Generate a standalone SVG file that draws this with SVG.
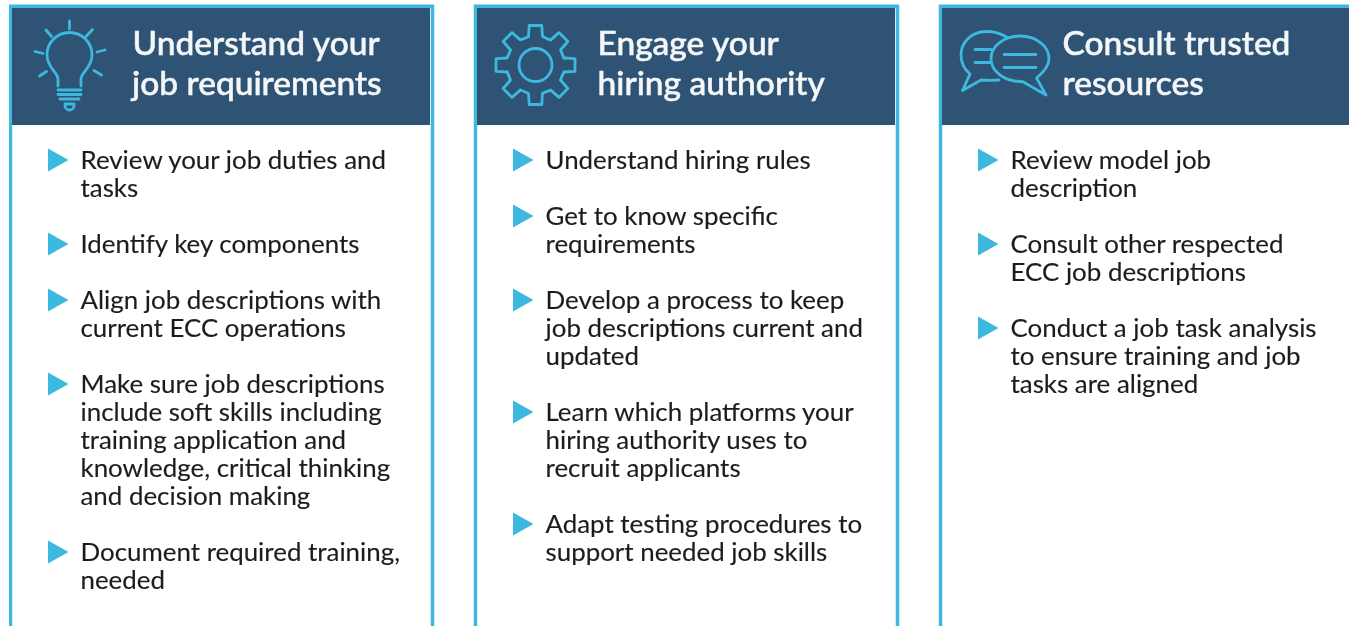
<svg xmlns="http://www.w3.org/2000/svg" width="1349" height="626" viewBox="0 0 1349 626">
<style>
.frame{fill:#fff;stroke:#3cb9df;stroke-width:3.5}
.head{fill:#2e5374}
.title{font:500 33.500px Lato,"Open Sans",sans-serif;fill:#f4f6f8;stroke:#f4f6f8;stroke-width:.55}
.body{font:400 25.900px Lato,"Open Sans",sans-serif;fill:#1c1c1c;stroke:#1c1c1c;stroke-width:.15}
.ico{fill:none;stroke:#3cb9df;stroke-width:2.800;stroke-linecap:round;stroke-linejoin:round}
.bul{fill:#3cb9df}
</style>
<defs>
<filter id="soft" x="0" y="0" width="1" height="1"><feGaussianBlur stdDeviation="0.6"/></filter>
<path id="tri" class="bul" d="M0 0L20.500 11.500L0 23Z"/>
<path id="tooth" d="M-7-28.500L-6.300-39.500H6.300L7-28.500Q11-26.500 15-25"/>
</defs>
<rect width="1349" height="626" fill="#fff"/>
<g filter="url(#soft)">
<g id="connectors"></g>
<g id="panel-1">
<rect x="9" y="4" width="425" height="640" fill="#d5dde2"/>
<rect class="frame" x="10.500" y="6.500" width="422" height="640"/>
<rect class="head" x="12" y="8" width="418" height="117"/>
<g class="ico">
<path d="M58 86V79C58 72 47 68 47 55A22.500 22.500 0 1 1 92 55C92 68 81 72 81 79V86"/>
<path d="M69.500 21V29M46 30L51.500 36.500M92.500 29.500L86 36.500M35 51.500L43 53.500M105 50L97 52M39.500 76L46.500 71.500M101.500 75L94 70.500"/>
<path d="M58 90H81M58 94.500H81M60 99H79M65 104V106A4.500 4 0 0 0 74 106V104Z"/>
</g>
<text class="title" x="132.500" y="54.500">Understand your</text>
<text class="title" x="132" y="94.500">job requirements</text>
<use href="#tri" x="48" y="148.500"/>
<use href="#tri" x="48" y="232.500"/>
<use href="#tri" x="48" y="288.500"/>
<use href="#tri" x="48" y="372.500"/>
<use href="#tri" x="48" y="540.500"/>
<text class="body" x="80.500" y="169">Review your job duties and</text>
<text class="body" x="80.500" y="197">tasks</text>
<text class="body" x="80.500" y="253">Identify key components</text>
<text class="body" x="80.500" y="309">Align job descriptions with</text>
<text class="body" x="80.500" y="337">current ECC operations</text>
<text class="body" x="80.500" y="393">Make sure job descriptions</text>
<text class="body" x="80.500" y="421">include soft skills including</text>
<text class="body" x="80.500" y="449">training application and</text>
<text class="body" x="80.500" y="477">knowledge, critical thinking</text>
<text class="body" x="80.500" y="505">and decision making</text>
<text class="body" x="80.500" y="561">Document required training,</text>
<text class="body" x="80.500" y="589">needed</text>
</g>
<g id="panel-2">
<rect x="474" y="4" width="425" height="640" fill="#d5dde2"/>
<rect class="frame" x="475.500" y="6.500" width="422" height="640"/>
<rect class="head" x="477" y="8" width="418" height="117"/>
<g class="ico" transform="translate(535.500 65)">
<circle r="16.500"/>
<use href="#tooth"/>
<use href="#tooth" transform="rotate(45)"/>
<use href="#tooth" transform="rotate(90)"/>
<use href="#tooth" transform="rotate(135)"/>
<use href="#tooth" transform="rotate(180)"/>
<use href="#tooth" transform="rotate(225)"/>
<use href="#tooth" transform="rotate(270)"/>
<use href="#tooth" transform="rotate(315)"/>
</g>
<text class="title" x="597.500" y="54.500">Engage your</text>
<text class="title" x="597.500" y="94.500">hiring authority</text>
<use href="#tri" x="513" y="148.500"/>
<use href="#tri" x="513" y="204.500"/>
<use href="#tri" x="513" y="288.500"/>
<use href="#tri" x="513" y="400.500"/>
<use href="#tri" x="513" y="512.500"/>
<text class="body" x="545.500" y="169">Understand hiring rules</text>
<text class="body" x="545.500" y="225">Get to know specific</text>
<text class="body" x="545.500" y="253">requirements</text>
<text class="body" x="545.500" y="309">Develop a process to keep</text>
<text class="body" x="545.500" y="337">job descriptions current and</text>
<text class="body" x="545.500" y="365">updated</text>
<text class="body" x="545.500" y="421">Learn which platforms your</text>
<text class="body" x="545.500" y="449">hiring authority uses to</text>
<text class="body" x="545.500" y="477">recruit applicants</text>
<text class="body" x="545.500" y="533">Adapt testing procedures to</text>
<text class="body" x="545.500" y="561">support needed job skills</text>
</g>
<g id="panel-3">
<rect x="939" y="4" width="425" height="640" fill="#d5dde2"/>
<rect class="frame" x="940.500" y="6.500" width="422" height="640"/>
<rect class="head" x="942" y="8" width="418" height="117"/>
<g class="ico">
<path d="M1006.500 37C1000 33 993 31.500 986 31.500C971 31.500 961 43 961 55C961 62 964 69 970 74L962.500 90.500L981 80C988 80.500 994 80.500 999 80"/>
<path d="M1036.500 78C1044 72 1049 66 1049 58.500C1049 46 1036 36 1020 36C1004 36 991 46 991 58.500C991 71 1004 81.500 1020 81.500C1022 81.500 1024 81.500 1025 83L1046 95Z"/>
<path d="M975 49.500H991M975 62.500H991M1004 54.500H1036M1004 67.500H1036"/>
</g>
<text class="title" x="1062.500" y="54.500">Consult trusted</text>
<text class="title" x="1062.500" y="94.500">resources</text>
<use href="#tri" x="978" y="148.500"/>
<use href="#tri" x="978" y="232.500"/>
<use href="#tri" x="978" y="316.500"/>
<text class="body" x="1010.500" y="169">Review model job</text>
<text class="body" x="1010.500" y="197">description</text>
<text class="body" x="1010.500" y="253">Consult other respected</text>
<text class="body" x="1010.500" y="281">ECC job descriptions</text>
<text class="body" x="1010.500" y="337">Conduct a job task analysis</text>
<text class="body" x="1010.500" y="365">to ensure training and job</text>
<text class="body" x="1010.500" y="393">tasks are aligned</text>
</g>
</g>
</svg>
